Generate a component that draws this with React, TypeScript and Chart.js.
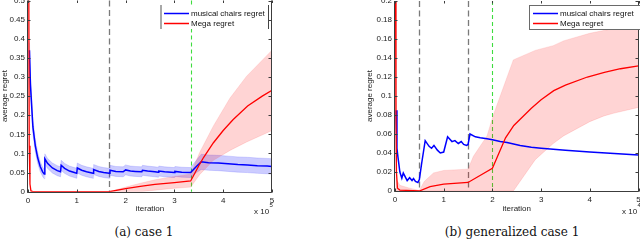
import React, { useEffect, useRef } from "react";
import { Chart, registerables } from "chart.js";
Chart.register(...registerables);

// ---------- shared ----------
const seriesLabels = ["musical chairs regret", "Mega regret"];
const xTicks = [0, 1, 2, 3, 4, 5];

// ---------- panel (a) case 1 : x in units of 1e5 iterations ----------
const leftYTicks = [0, 0.05, 0.1, 0.15, 0.2, 0.25, 0.3, 0.35, 0.4, 0.45, 0.5];
const leftBlueX = [
  0.03, 0.05, 0.1, 0.15, 0.2, 0.25, 0.3, 0.333, 0.345, 0.4, 0.5, 0.6, 0.666, 0.68, 0.75, 0.85,
  0.95, 0.999, 1.01, 1.1, 1.2, 1.333, 1.345, 1.45, 1.55, 1.666, 1.68, 1.8, 1.95, 2.0, 2.1, 2.2,
  2.333, 2.345, 2.45, 2.6, 2.667, 2.68, 2.8, 3.0, 3.01, 3.15, 3.333, 3.45, 3.55, 3.7, 3.9, 4.1,
  4.3, 4.5, 4.7, 4.9, 5.0,
];
const leftBlueY = [
  0.37, 0.28, 0.17, 0.12, 0.088, 0.066, 0.052, 0.046, 0.086, 0.074, 0.062, 0.055, 0.052, 0.069,
  0.061, 0.054, 0.05, 0.048, 0.062, 0.056, 0.052, 0.048, 0.058, 0.053, 0.05, 0.048, 0.056, 0.053,
  0.052, 0.057, 0.054, 0.053, 0.052, 0.056, 0.054, 0.052, 0.051, 0.054, 0.052, 0.05, 0.053, 0.051,
  0.05, 0.066, 0.078, 0.076, 0.075, 0.073, 0.071, 0.07, 0.068, 0.067, 0.066,
];
const leftBlueSpread = [
  0.02, 0.02, 0.018, 0.016, 0.014, 0.013, 0.012, 0.012,
  0.013, 0.013, 0.013, 0.013, 0.013, 0.013, 0.013, 0.013, 0.013, 0.013, 0.013, 0.013, 0.013,
  0.013, 0.013, 0.013, 0.013, 0.013, 0.013, 0.013, 0.013, 0.013, 0.013, 0.013, 0.013, 0.013,
  0.013, 0.013, 0.013, 0.013, 0.013, 0.013, 0.013, 0.013, 0.013,
  0.016, 0.02, 0.02, 0.02, 0.02, 0.02, 0.02, 0.02, 0.02, 0.02,
];
const leftRedX = [0.015, 0.025, 0.04, 0.06, 0.1, 1.667, 2.0, 2.3, 2.6, 3.0, 3.333, 3.5, 3.6, 3.8, 4.0, 4.2, 4.5, 4.8, 5.0];
const leftRedY = [0.6, 0.12, 0.02, 0.002, 0, 0, 0.008, 0.014, 0.019, 0.024, 0.028, 0.068, 0.09, 0.128, 0.16, 0.188, 0.224, 0.25, 0.265];
const leftRedBandX = [1.667, 2.0, 2.3, 2.6, 3.0, 3.333, 3.52, 3.8, 4.14, 4.48, 5.0];
const leftRedBandHi = [0, 0.012, 0.022, 0.031, 0.04, 0.046, 0.103, 0.172, 0.245, 0.302, 0.37];
const leftRedBandLo = [0, 0, 0, 0.004, 0.009, 0.012, 0.045, 0.082, 0.108, 0.13, 0.16];
const leftMarkers = [1.667, 3.333];

// ---------- panel (b) generalized case 1 : x in units of 1e4 iterations ----------
const rightYTicks = [0, 0.02, 0.04, 0.06, 0.08, 0.1, 0.12, 0.14, 0.16, 0.18, 0.2];
const rightBlueX = [
  0.025, 0.04, 0.06, 0.08, 0.1, 0.14, 0.17, 0.2, 0.25, 0.3, 0.35, 0.38, 0.42, 0.47, 0.5, 0.55,
  0.62, 0.7, 0.75, 0.8, 0.87, 0.93, 1.0, 1.08, 1.17, 1.23, 1.3, 1.36, 1.41, 1.47, 1.5, 1.54, 1.65,
  1.75, 1.89, 2.0, 2.16, 2.3, 2.57, 2.8, 3.0, 3.5, 4.0, 4.5, 5.0,
];
const rightBlueY = [
  0.085, 0.045, 0.036, 0.028, 0.02, 0.0135, 0.019, 0.016, 0.011, 0.014, 0.011, 0.013, 0.01, 0.009,
  0.012, 0.03, 0.053, 0.047, 0.045, 0.048, 0.043, 0.04, 0.041, 0.057, 0.052, 0.053, 0.05, 0.052,
  0.049, 0.048, 0.049, 0.06, 0.057, 0.056, 0.055, 0.054, 0.052, 0.051, 0.048, 0.046, 0.045, 0.043,
  0.041, 0.0395, 0.038,
];
const rightRedX = [0.01, 0.02, 0.03, 0.05, 0.1, 0.5, 0.72, 1.0, 1.5, 2.0, 2.27, 2.44, 2.57, 2.8, 3.0, 3.26, 3.5, 3.95, 4.3, 4.63, 5.0];
const rightRedY = [0.25, 0.08, 0.02, 0.003, 0.001, 0, 0.0045, 0.0072, 0.009, 0.024, 0.056, 0.069, 0.0755, 0.087, 0.096, 0.1056, 0.1115, 0.12, 0.1248, 0.1287, 0.1316];
const rightRedBandX = [0.01, 0.03, 0.1, 0.3, 0.5, 0.6, 0.79, 1.0, 1.5, 1.61, 1.89, 2.02, 2.43, 2.88, 3.25, 3.46, 4.0, 4.29, 4.5, 5.0];
const rightRedBandHi = [0.25, 0.012, 0.006, 0.003, 0.0005, 0.01, 0.019, 0.0216, 0.023, 0.0365, 0.058, 0.08, 0.138, 0.148, 0.153, 0.158, 0.166, 0.169, 0.171, 0.173];
const rightRedBandLo = [0, 0, 0, 0, 0, 0, 0, 0, 0, 0, 0, 0, 0, 0.033, 0.05, 0.058, 0.073, 0.079, 0.082, 0.088];
const rightMarkers = [0.5, 1.5, 2.0];

// ---------- helpers ----------
const SANS = '"Liberation Sans", Arial, Helvetica, sans-serif';
const pts = (xs: number[], ys: number[]) => xs.map((x, i) => ({ x, y: ys[i] }));
const fmt = (v: number) => String(Math.round(v * 1000) / 1000);

type Panel = {
  width: number;
  height: number;
  yAxisWidth: number;
  padTop: number;
  padRight: number;
  plotBottom: number;
  yMax: number;
  yTicks: number[];
  blueX: number[];
  blueY: number[];
  blueSpread?: number[];
  redX: number[];
  redY: number[];
  bandX: number[];
  bandHi: number[];
  bandLo: number[];
  markers: number[];
  greenIndex: number;
  legend: { x: number; y: number; w: number; h: number; full: boolean };
  exponent: string;
  expX: number;
  yTitlePad: number;
};

function makeFramePlugin(p: Panel) {
  return {
    id: "frame",
    beforeDatasetsDraw(chart: any) {
      const { ctx, chartArea } = chart;
      const xs = chart.scales.x;
      ctx.save();
      p.markers.forEach((m, i) => {
        const px = Math.round(xs.getPixelForValue(m)) + 0.5;
        const green = i === p.greenIndex;
        ctx.strokeStyle = green ? "#3fdc3f" : "#7a7a7a";
        ctx.lineWidth = green ? 1.1 : 1.3;
        ctx.setLineDash(green ? [4, 3] : [6, 3.5]);
        ctx.beginPath();
        ctx.moveTo(px, chartArea.top);
        ctx.lineTo(px, chartArea.bottom);
        ctx.stroke();
      });
      ctx.restore();
    },
    afterDraw(chart: any) {
      const { ctx, chartArea } = chart;
      const { left, right, top, bottom } = chartArea;
      const xs = chart.scales.x;
      const ys = chart.scales.y;
      ctx.save();
      ctx.setLineDash([]);
      ctx.strokeStyle = "#3c3c3c";
      ctx.lineWidth = 1;
      const L = Math.round(left) - 0.5;
      const R = Math.round(right) - 0.5;
      const B = Math.round(bottom) + 0.5;
      ctx.beginPath();
      ctx.moveTo(L, top);
      ctx.lineTo(L, B);
      ctx.lineTo(R, B);
      ctx.lineTo(R, top);
      ctx.stroke();
      // inward ticks
      ctx.beginPath();
      xTicks.forEach((v) => {
        const px = Math.round(xs.getPixelForValue(v)) + 0.5;
        ctx.moveTo(px, B);
        ctx.lineTo(px, B - 3);
        ctx.moveTo(px, top);
        ctx.lineTo(px, top + 2.5);
      });
      p.yTicks.forEach((v) => {
        const py = Math.round(ys.getPixelForValue(v)) + 0.5;
        ctx.moveTo(L, py);
        ctx.lineTo(L + 3, py);
        ctx.moveTo(R, py);
        ctx.lineTo(R - 3, py);
      });
      ctx.stroke();

      // legend
      const lg = p.legend;
      ctx.fillStyle = "#ffffff";
      ctx.fillRect(lg.x, lg.y, lg.w, lg.h);
      if (lg.full) {
        ctx.strokeStyle = "#6a6a6a";
        ctx.lineWidth = 1;
        ctx.strokeRect(lg.x + 0.5, lg.y + 0.5, lg.w, lg.h);
      } else {
        ctx.strokeStyle = "#a8a8a8";
        ctx.lineWidth = 2;
        ctx.beginPath();
        ctx.moveTo(lg.x + 1, lg.y);
        ctx.lineTo(lg.x + 1, lg.y + lg.h);
        ctx.stroke();
        ctx.strokeStyle = "#444";
        ctx.lineWidth = 1;
        ctx.beginPath();
        ctx.moveTo(lg.x + lg.w + 0.5, lg.y);
        ctx.lineTo(lg.x + lg.w + 0.5, lg.y + lg.h);
        ctx.stroke();
      }
      const colors = ["#0000ff", "#ff0000"];
      ctx.font = `8px ${SANS}`;
      ctx.textBaseline = "middle";
      ctx.textAlign = "left";
      seriesLabels.forEach((lab, i) => {
        const yy = lg.y + 8.5 + i * 10;
        ctx.strokeStyle = colors[i];
        ctx.lineWidth = 1.5;
        ctx.beginPath();
        ctx.moveTo(lg.x + 4, yy);
        ctx.lineTo(lg.x + 29, yy);
        ctx.stroke();
        ctx.fillStyle = "#111";
        ctx.fillText(lab, lg.x + 31, yy);
      });

      // exponent label
      ctx.fillStyle = "#222";
      ctx.font = `8px ${SANS}`;
      ctx.textBaseline = "middle";
      ctx.fillText("x 10", p.expX, 212);
      ctx.font = `6px ${SANS}`;
      ctx.fillText(p.exponent, p.expX + 15.5, 205);
      ctx.restore();
    },
  };
}

function PanelChart({ p, left }: { p: Panel; left: number }) {
  const ref = useRef<HTMLCanvasElement | null>(null);
  useEffect(() => {
    if (!ref.current) return;
    const datasets: any[] = [
      {
        label: seriesLabels[1],
        data: pts(p.redX, p.redY),
        borderColor: "#ff0000",
        borderWidth: 1.3,
        pointRadius: 0,
        fill: false,
        tension: 0,
      },
      {
        label: seriesLabels[0],
        data: pts(p.blueX, p.blueY),
        borderColor: "#0000ff",
        borderWidth: 1.5,
        pointRadius: 0,
        fill: false,
        tension: 0,
      },
      {
        label: "red hi",
        data: pts(p.bandX, p.bandHi),
        borderColor: "rgba(255,120,120,0.35)",
        borderWidth: 0.6,
        pointRadius: 0,
        backgroundColor: "rgba(255,0,0,0.17)",
        fill: "+1",
      },
      {
        label: "red lo",
        data: pts(p.bandX, p.bandLo),
        borderColor: "rgba(255,120,120,0.35)",
        borderWidth: 0.6,
        pointRadius: 0,
        fill: false,
      },
    ];
    if (p.blueSpread) {
      const sp = p.blueSpread;
      datasets.push(
        {
          label: "blue hi",
          data: p.blueX.map((x, i) => ({ x, y: p.blueY[i] + sp[i] })),
          borderColor: "rgba(100,100,255,0.4)",
          borderWidth: 0.6,
          pointRadius: 0,
          backgroundColor: "rgba(0,0,255,0.2)",
          fill: "+1",
        },
        {
          label: "blue lo",
          data: p.blueX.map((x, i) => ({ x, y: p.blueY[i] - sp[i] })),
          borderColor: "rgba(100,100,255,0.4)",
          borderWidth: 0.6,
          pointRadius: 0,
          fill: false,
        }
      );
    }
    const axisFont = { family: SANS, size: 8 };
    const chart = new Chart(ref.current, {
      type: "line",
      data: { datasets },
      options: {
        animation: false,
        responsive: false,
        maintainAspectRatio: false,
        devicePixelRatio: 1,
        events: [],
        layout: {
          autoPadding: false,
          padding: { top: p.padTop, right: p.padRight, left: 0, bottom: 0 },
        },
        plugins: {
          legend: { display: false },
          tooltip: { enabled: false },
          title: { display: false },
        },
        scales: {
          x: {
            type: "linear",
            min: 0,
            max: 5,
            grid: { display: false, drawTicks: false },
            border: { display: false },
            afterBuildTicks: (s: any) => {
              s.ticks = xTicks.map((v) => ({ value: v }));
            },
            afterFit: (s: any) => {
              s.height = p.height - p.plotBottom;
              s.paddingLeft = 0;
              s.paddingRight = 0;
              s.paddingTop = 0;
              s.paddingBottom = 0;
            },
            ticks: {
              padding: 4,
              color: "#222",
              font: axisFont,
              maxRotation: 0,
              autoSkip: false,
              callback: (v: any) => fmt(Number(v)),
            },
            title: {
              display: true,
              text: "iteration",
              color: "#222",
              font: axisFont,
              padding: { top: 0, bottom: 4 },
            },
          },
          y: {
            type: "linear",
            min: 0,
            max: p.yMax,
            grid: { display: false, drawTicks: false },
            border: { display: false },
            afterBuildTicks: (s: any) => {
              s.ticks = p.yTicks.map((v) => ({ value: v }));
            },
            afterFit: (s: any) => {
              s.width = p.yAxisWidth;
              s.paddingLeft = 0;
              s.paddingRight = 0;
              s.paddingTop = 0;
              s.paddingBottom = 0;
            },
            ticks: {
              padding: 3,
              color: "#222",
              font: axisFont,
              autoSkip: false,
              callback: (v: any) => fmt(Number(v)),
            },
            title: {
              display: true,
              text: "average regret",
              color: "#222",
              font: axisFont,
              padding: { top: p.yTitlePad, bottom: 0 },
            },
          },
        },
      } as any,
      plugins: [makeFramePlugin(p)],
    });
    return () => chart.destroy();
  }, [p]);
  return (
    <canvas
      ref={ref}
      width={p.width}
      height={p.height}
      style={{ position: "absolute", left, top: 0, width: p.width, height: p.height }}
    />
  );
}

const leftPanel: Panel = {
  width: 290,
  height: 218,
  yAxisWidth: 28,
  padTop: 0.5,
  padRight: 18,
  plotBottom: 191.7,
  yMax: 0.5,
  yTicks: leftYTicks,
  blueX: leftBlueX,
  blueY: leftBlueY,
  blueSpread: leftBlueSpread,
  redX: leftRedX,
  redY: leftRedY,
  bandX: leftRedBandX,
  bandHi: leftRedBandHi,
  bandLo: leftRedBandLo,
  markers: leftMarkers,
  greenIndex: 1,
  legend: { x: 160, y: 5, w: 108, h: 24, full: false },
  exponent: "5",
  expX: 254,
  yTitlePad: 0,
};

const rightPanel: Panel = {
  width: 276,
  height: 218,
  yAxisWidth: 31,
  padTop: 1,
  padRight: 1.5,
  plotBottom: 191,
  yMax: 0.2,
  yTicks: rightYTicks,
  blueX: rightBlueX,
  blueY: rightBlueY,
  redX: rightRedX,
  redY: rightRedY,
  bandX: rightRedBandX,
  bandHi: rightRedBandHi,
  bandLo: rightRedBandLo,
  markers: rightMarkers,
  greenIndex: 2,
  legend: { x: 165, y: 5, w: 120, h: 24, full: true },
  exponent: "4",
  expX: 258,
  yTitlePad: 1,
};

export default function App() {
  const cap: React.CSSProperties = {
    position: "absolute",
    top: 225,
    width: 240,
    textAlign: "center",
    fontFamily: '"DejaVu Serif", "Liberation Serif", serif',
    fontSize: 12,
    lineHeight: "14px",
    color: "#111",
    whiteSpace: "nowrap",
  };
  return (
    <div
      style={{
        position: "fixed",
        left: 0,
        top: 0,
        width: 640,
        height: 240,
        background: "#fff",
        overflow: "hidden",
      }}
    >
      <PanelChart p={leftPanel} left={0} />
      <PanelChart p={rightPanel} left={364} />
      <div style={{ ...cap, left: 144 - 120 }}>(a) case 1</div>
      <div style={{ ...cap, left: 512 - 120 }}>(b) generalized case 1</div>
    </div>
  );
}
